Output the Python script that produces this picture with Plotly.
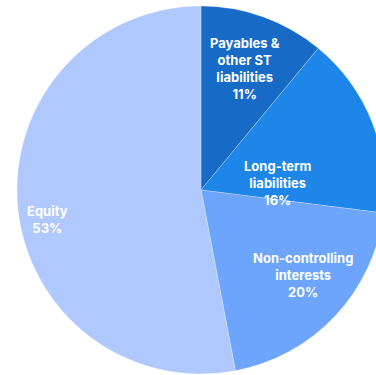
import math
import plotly.graph_objects as go

categories = ["Payables & other ST liabilities", "Long-term liabilities",
              "Non-controlling interests", "Equity"]
display_labels = ["Payables &<br>other ST<br>liabilities", "Long-term<br>liabilities",
                  "Non-controlling<br>interests", "Equity"]
values = [11, 16, 20, 53]
colors = ["#176BC6", "#1E85E9", "#6CA5FB", "#AFC8FD"]

# label placement style: (fraction of radius, angular shift in degrees from slice bisector)
label_radius_frac = [0.70, 0.42, 0.72, 0.85]
label_angle_shift = [0.2, 16.4, -3.4, -5.3]

W, H = 392, 375
cx, cy, r = 201, 190, 184

fig = go.Figure(go.Pie(
    labels=categories,
    values=values,
    textinfo="none",
    marker=dict(colors=colors, line=dict(color="rgba(255,255,255,0.5)", width=0.5)),
    sort=False,
    direction="clockwise",
    rotation=0,
    hoverinfo="skip",
    domain=dict(x=[(cx - r) / W, (cx + r) / W], y=[1 - (cy + r) / H, 1 - (cy - r) / H]),
))

total = sum(values)
cum = 0
for lab, v, fr, sh in zip(display_labels, values, label_radius_frac, label_angle_shift):
    mid = (cum + v / 2) / total * 360 + sh
    cum += v
    rad = math.radians(mid)
    px = cx + fr * r * math.sin(rad)
    py = cy - fr * r * math.cos(rad)
    fig.add_annotation(
        x=px / W, y=1 - py / H, xref="paper", yref="paper",
        text=f"{lab}<br>{round(v / total * 100)}%",
        showarrow=False, xanchor="center", yanchor="middle", align="center",
        font=dict(family="Inter", size=13, color="white", weight="bold"),
    )

fig.update_layout(
    width=W, height=H,
    margin=dict(l=0, r=0, t=0, b=0),
    showlegend=False,
    paper_bgcolor="white",
    plot_bgcolor="white",
)
fig.write_html("out.html",
               post_script="document.documentElement.style.overflow='hidden';document.body.style.overflow='hidden';")
